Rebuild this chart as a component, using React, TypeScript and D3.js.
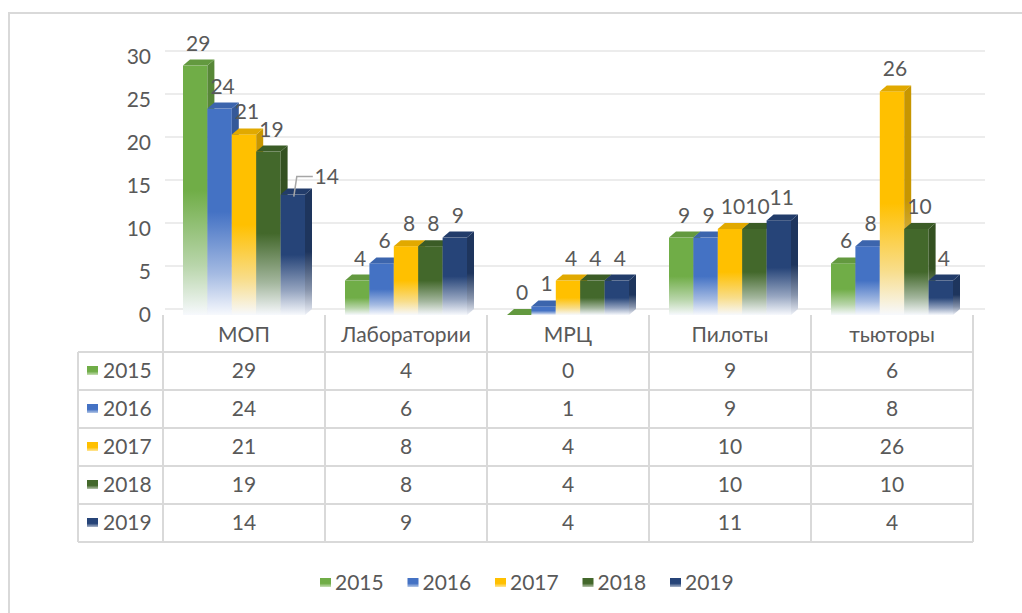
import React from 'react';
import * as d3 from 'd3';

const categories = ['МОП', 'Лаборатории', 'МРЦ', 'Пилоты', 'тьюторы'];
const years = ['2015', '2016', '2017', '2018', '2019'];
const values2015 = [29, 4, 0, 9, 6];
const values2016 = [24, 6, 1, 9, 8];
const values2017 = [21, 8, 4, 10, 26];
const values2018 = [19, 8, 4, 10, 10];
const values2019 = [14, 9, 4, 11, 4];
const seriesValues = [values2015, values2016, values2017, values2018, values2019];
const seriesColors = ['#70AD47', '#4472C4', '#FFC000', '#43682B', '#264478'];
const yTicks = [0, 5, 10, 15, 20, 25, 30];

const W = 1022;
const H = 613;
const FONT = 'Lato, "Open Sans", sans-serif';
const FS = 21;
const TEXT = '#595959';
const GRID = '#d9d9d9';
const DX = 7; // 3d depth
const DY = 6;

const App: React.FC = () => {
  const y = d3.scaleLinear().domain([0, 30]).range([315, 57]);
  const x = d3.scaleBand<string>().domain(categories).range([163, 973]);
  const groupW = 122;
  const inner = d3.scaleBand<string>().domain(years).range([0, groupW]);
  const bw = inner.bandwidth();

  const tableTop = 315;
  const headerBottom = 352;
  const rowH = 38;
  const tableLeft = 78;
  const tableRight = 973;
  const colEdges = [...categories.map((c) => x(c) as number), tableRight];

  // the "14" label is pushed aside in the original, with a leader line
  const movedLabel = { s: 4, c: 0, dx: 31, dy: 4 };

  return (
    <svg
      width={W}
      height={H}
      style={{ position: 'absolute', left: 0, top: 0, background: '#fff' }}
      fontFamily={FONT}
    >
      <defs>
        {seriesColors.map((c, i) => {
          const side = d3.color(c)!.darker(0.7).formatHex();
          return (
            <React.Fragment key={i}>
              <linearGradient id={`front${i}`} x1="0" y1="0" x2="0" y2="1">
                <stop offset="0%" stopColor={c} />
                <stop offset="50%" stopColor={c} />
                <stop offset="80%" stopColor={d3.interpolateRgb(c, '#f2f5fb')(0.55)} />
                <stop offset="100%" stopColor="#f7f9fd" />
              </linearGradient>
              <linearGradient id={`side${i}`} x1="0" y1="0" x2="0" y2="1">
                <stop offset="0%" stopColor={side} />
                <stop offset="50%" stopColor={side} />
                <stop offset="80%" stopColor={d3.interpolateRgb(side, '#eef1f8')(0.5)} />
                <stop offset="100%" stopColor="#eef1f8" />
              </linearGradient>
              <linearGradient id={`key${i}`} x1="0" y1="0" x2="0" y2="1">
                <stop offset="0%" stopColor={c} />
                <stop offset="60%" stopColor={c} />
                <stop offset="100%" stopColor={d3.interpolateRgb(c, '#ffffff')(0.6)} />
              </linearGradient>
            </React.Fragment>
          );
        })}
      </defs>

      {/* outer frame */}
      <rect x={9} y={13} width={W} height={H} fill="#fff" stroke={GRID} strokeWidth={2} />

      {/* gridlines on the back wall */}
      {yTicks.map((t) => (
        <line
          key={t}
          x1={165}
          x2={985}
          y1={y(t) - DY}
          y2={y(t) - DY}
          stroke="#ececec"
          strokeWidth={2}
        />
      ))}

      {/* y axis labels */}
      {yTicks.map((t) => (
        <text key={t} x={151} y={y(t) + 7} textAnchor="end" fontSize={FS} fill={TEXT}>
          {t}
        </text>
      ))}

      {/* bars */}
      {categories.map((cat, ci) =>
        years.map((yr, si) => {
          const v = seriesValues[si][ci];
          const x0 = (x(cat) as number) + (x.bandwidth() - groupW) / 2 + (inner(yr) as number);
          const top = y(v);
          const base = y(0);
          const x1 = x0 + bw;
          const topColor = d3.color(seriesColors[si])!.darker(0.35).formatHex();
          return (
            <g key={`${cat}-${yr}`}>
              <rect x={x0} y={top} width={bw} height={base - top} fill={`url(#front${si})`} />
              <polygon
                points={`${x1},${top} ${x1 + DX},${top - DY} ${x1 + DX},${base - DY} ${x1},${base}`}
                fill={`url(#side${si})`}
              />
              <polygon
                points={`${x0},${top} ${x0 + DX},${top - DY} ${x1 + DX},${top - DY} ${x1},${top}`}
                fill={topColor}
              />
            </g>
          );
        })
      )}

      {/* value labels */}
      {categories.map((cat, ci) =>
        years.map((yr, si) => {
          const v = seriesValues[si][ci];
          const x0 = (x(cat) as number) + (x.bandwidth() - groupW) / 2 + (inner(yr) as number);
          const cx = x0 + bw / 2 + 3;
          const ty = y(v) - 15;
          const moved = movedLabel.s === si && movedLabel.c === ci;
          if (moved) {
            const lx = cx + movedLabel.dx;
            const ly = ty + movedLabel.dy;
            return (
              <g key={`l-${cat}-${yr}`}>
                <polyline
                  points={`${cx - 2},${y(v) + 2} ${cx + 1},${ly - 7} ${lx - 14},${ly - 7}`}
                  fill="none"
                  stroke="#a6a6a6"
                  strokeWidth={1.5}
                />
                <text x={lx} y={ly} textAnchor="middle" fontSize={FS} fill={TEXT}>
                  {v}
                </text>
              </g>
            );
          }
          return (
            <text key={`l-${cat}-${yr}`} x={cx} y={ty} textAnchor="middle" fontSize={FS} fill={TEXT}>
              {v}
            </text>
          );
        })
      )}

      {/* data table */}
      <g stroke={GRID} strokeWidth={2}>
        {colEdges.map((e, i) => (
          <line key={`v${i}`} x1={e} x2={e} y1={tableTop} y2={headerBottom + rowH * years.length} />
        ))}
        <line x1={tableLeft} x2={tableLeft} y1={headerBottom} y2={headerBottom + rowH * years.length} />
        {d3.range(years.length + 1).map((r) => (
          <line
            key={`h${r}`}
            x1={tableLeft}
            x2={tableRight}
            y1={headerBottom + rowH * r}
            y2={headerBottom + rowH * r}
          />
        ))}
      </g>
      {categories.map((cat) => (
        <text
          key={`hd-${cat}`}
          x={(x(cat) as number) + x.bandwidth() / 2}
          y={headerBottom - 10}
          textAnchor="middle"
          fontSize={FS}
          fill={TEXT}
        >
          {cat}
        </text>
      ))}
      {years.map((yr, si) => {
        const ry = headerBottom + rowH * si + rowH / 2;
        return (
          <g key={`row-${yr}`}>
            <rect x={87} y={ry - 5} width={11} height={9} fill={`url(#key${si})`} />
            <text x={103} y={ry + 7} fontSize={FS} fill={TEXT}>
              {yr}
            </text>
            {categories.map((cat, ci) => (
              <text
                key={cat}
                x={(x(cat) as number) + x.bandwidth() / 2}
                y={ry + 7}
                textAnchor="middle"
                fontSize={FS}
                fill={TEXT}
              >
                {seriesValues[si][ci]}
              </text>
            ))}
          </g>
        );
      })}

      {/* legend */}
      {years.map((yr, si) => {
        const lx = 320 + si * 87.5;
        return (
          <g key={`lg-${yr}`}>
            <rect x={lx} y={578} width={11} height={9} fill={`url(#key${si})`} />
            <text x={lx + 15} y={590} fontSize={FS} fill={TEXT}>
              {yr}
            </text>
          </g>
        );
      })}
    </svg>
  );
};

export default App;
